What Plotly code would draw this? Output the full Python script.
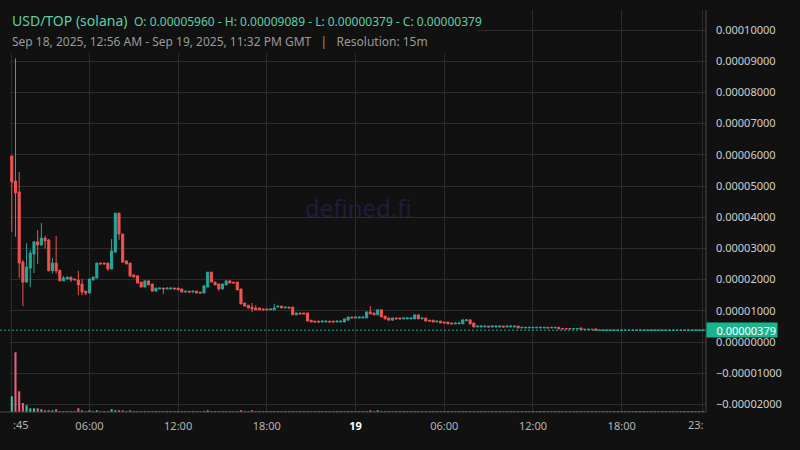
import plotly.graph_objects as go
import pandas as pd

# ---------------- data (prices in units of 1e-5 USD) ----------------
PRICE_UNIT = 1e-5
START = "2025-09-18 00:45"
N_CANDLES = 188

opens = [
    5.96, 5.16, 4.81, 2.56, 1.92, 2.37, 2.82, 3.21, 3.11, 3.33,
    3.27, 2.28, 2.53, 2.30, 1.96, 2.02, 2.08, 2.02, 1.99, 1.86,
    1.63, 1.57, 1.99, 2.05, 2.53, 2.53, 2.53, 2.34, 2.88, 4.13,
    3.46, 2.60, 2.53, 2.15, 2.12, 1.92, 1.76, 1.96, 1.86, 1.63,
    1.70, 1.73, 1.70, 1.70, 1.73, 1.73, 1.70, 1.60, 1.63, 1.60,
    1.63, 1.60, 1.57, 1.76, 2.24, 1.92, 1.86, 1.70, 1.83, 1.96,
    1.92, 1.92, 1.70, 1.25, 1.18, 1.12, 1.09, 1.09, 1.06, 1.06,
    1.03, 1.03, 1.12, 1.15, 1.09, 1.12, 1.12, 0.87, 0.93, 0.93,
    0.93, 0.70, 0.67, 0.67, 0.64, 0.64, 0.67, 0.67, 0.64, 0.64,
    0.64, 0.70, 0.80, 0.77, 0.77, 0.77, 0.77, 0.96, 0.93, 0.87,
    1.03, 0.83, 0.77, 0.70, 0.77, 0.77, 0.74, 0.74, 0.74, 0.74,
    0.87, 0.74, 0.77, 0.70, 0.70, 0.64, 0.67, 0.64, 0.64, 0.61,
    0.58, 0.58, 0.58, 0.68, 0.71, 0.61, 0.48, 0.48, 0.48, 0.51,
    0.48, 0.48, 0.48, 0.51, 0.48, 0.48, 0.48, 0.51, 0.45, 0.45,
    0.45, 0.45, 0.45, 0.45, 0.45, 0.47, 0.45, 0.45, 0.47, 0.43,
    0.43, 0.43, 0.42, 0.42, 0.45, 0.41, 0.40, 0.41, 0.42, 0.3788,
    0.3788, 0.3788, 0.3788, 0.3788, 0.3788, 0.3788, 0.3788, 0.3788, 0.3788, 0.3788,
    0.3788, 0.3788, 0.3788, 0.3788, 0.3788, 0.3788, 0.3788, 0.3788, 0.3788, 0.3788,
    0.3788, 0.3788, 0.3788, 0.3788, 0.3788, 0.3788, 0.3788, 0.3788,
]
highs = [
    5.96, 9.089, 5.45, 2.63, 3.17, 2.95, 3.21, 3.59, 3.81, 3.40,
    3.30, 2.69, 3.40, 2.30, 2.12, 2.08, 2.08, 2.02, 2.28, 2.02,
    1.63, 2.02, 2.08, 2.53, 2.53, 2.53, 2.53, 3.30, 4.13, 4.13,
    3.46, 2.60, 2.53, 2.15, 2.12, 1.92, 1.96, 1.96, 1.86, 1.73,
    1.73, 1.73, 1.73, 1.73, 1.73, 1.73, 1.70, 1.63, 1.63, 1.63,
    1.63, 1.60, 1.80, 2.24, 2.24, 1.92, 1.86, 1.86, 1.96, 1.96,
    1.92, 1.92, 1.70, 1.25, 1.18, 1.25, 1.18, 1.09, 1.06, 1.06,
    1.06, 1.22, 1.15, 1.15, 1.12, 1.12, 1.12, 0.93, 0.93, 0.93,
    0.93, 0.70, 0.67, 0.67, 0.67, 0.67, 0.67, 0.67, 0.67, 0.67,
    0.74, 0.80, 0.80, 0.80, 0.80, 0.80, 0.99, 1.15, 0.93, 1.06,
    1.03, 0.83, 0.77, 0.77, 0.77, 0.77, 0.77, 0.77, 0.77, 0.87,
    0.87, 0.77, 0.77, 0.70, 0.70, 0.67, 0.67, 0.64, 0.64, 0.61,
    0.61, 0.61, 0.71, 0.71, 0.71, 0.61, 0.51, 0.51, 0.51, 0.51,
    0.51, 0.51, 0.51, 0.51, 0.51, 0.51, 0.51, 0.51, 0.47, 0.47,
    0.47, 0.47, 0.47, 0.47, 0.47, 0.47, 0.47, 0.47, 0.47, 0.43,
    0.43, 0.43, 0.43, 0.43, 0.45, 0.41, 0.41, 0.41, 0.42, 0.379,
    0.379, 0.379, 0.379, 0.379, 0.379, 0.379, 0.379, 0.379, 0.379, 0.379,
    0.379, 0.379, 0.379, 0.379, 0.379, 0.379, 0.379, 0.379, 0.379, 0.379,
    0.379, 0.379, 0.379, 0.379, 0.379, 0.379, 0.379, 0.379,
]
lows = [
    3.53, 3.37, 2.05, 1.15, 1.90, 1.76, 2.21, 2.50, 3.08, 3.00,
    2.28, 2.20, 2.20, 1.96, 1.96, 2.00, 1.92, 1.99, 1.50, 1.50,
    1.50, 1.57, 1.96, 2.05, 2.50, 2.50, 2.28, 2.34, 2.88, 3.27,
    2.56, 2.50, 2.08, 2.08, 1.89, 1.76, 1.76, 1.83, 1.63, 1.63,
    1.70, 1.54, 1.70, 1.70, 1.70, 1.67, 1.60, 1.60, 1.60, 1.60,
    1.57, 1.57, 1.57, 1.76, 1.92, 1.83, 1.63, 1.70, 1.83, 1.89,
    1.89, 1.67, 1.22, 1.15, 1.09, 0.96, 1.03, 1.03, 1.03, 1.03,
    1.03, 1.03, 1.12, 1.09, 1.09, 1.09, 0.87, 0.87, 0.90, 0.90,
    0.67, 0.64, 0.64, 0.64, 0.64, 0.64, 0.64, 0.64, 0.64, 0.64,
    0.64, 0.70, 0.77, 0.77, 0.77, 0.77, 0.77, 0.90, 0.87, 0.87,
    0.80, 0.74, 0.70, 0.70, 0.74, 0.74, 0.74, 0.74, 0.74, 0.74,
    0.74, 0.74, 0.67, 0.67, 0.64, 0.64, 0.61, 0.61, 0.58, 0.58,
    0.58, 0.58, 0.58, 0.68, 0.58, 0.48, 0.48, 0.48, 0.48, 0.48,
    0.48, 0.48, 0.48, 0.48, 0.48, 0.48, 0.48, 0.45, 0.45, 0.45,
    0.45, 0.45, 0.45, 0.45, 0.45, 0.45, 0.45, 0.45, 0.42, 0.42,
    0.42, 0.42, 0.42, 0.42, 0.40, 0.40, 0.40, 0.40, 0.379, 0.3788,
    0.3788, 0.3788, 0.3788, 0.3788, 0.3788, 0.3788, 0.3788, 0.3788, 0.3788, 0.3788,
    0.3788, 0.3788, 0.3788, 0.3788, 0.3788, 0.3788, 0.3788, 0.3788, 0.3788, 0.3788,
    0.3788, 0.3788, 0.3788, 0.3788, 0.3788, 0.3788, 0.3788, 0.3788,
]
closes = [
    5.13, 4.78, 2.53, 1.92, 2.40, 2.85, 3.21, 3.11, 3.33, 3.24,
    2.28, 2.53, 2.28, 1.96, 2.05, 2.08, 1.99, 1.99, 1.83, 1.60,
    1.57, 2.02, 2.08, 2.53, 2.50, 2.50, 2.34, 2.92, 4.13, 3.46,
    2.56, 2.50, 2.12, 2.08, 1.89, 1.76, 1.96, 1.83, 1.63, 1.73,
    1.73, 1.70, 1.73, 1.73, 1.70, 1.67, 1.60, 1.63, 1.60, 1.63,
    1.57, 1.57, 1.80, 2.24, 1.92, 1.83, 1.70, 1.86, 1.96, 1.89,
    1.89, 1.67, 1.22, 1.15, 1.09, 1.06, 1.03, 1.03, 1.03, 1.03,
    1.06, 1.09, 1.15, 1.09, 1.12, 1.09, 0.87, 0.93, 0.90, 0.90,
    0.67, 0.64, 0.64, 0.64, 0.67, 0.67, 0.64, 0.64, 0.67, 0.67,
    0.74, 0.80, 0.77, 0.80, 0.80, 0.80, 0.96, 0.90, 0.87, 1.03,
    0.80, 0.74, 0.70, 0.77, 0.74, 0.74, 0.77, 0.77, 0.77, 0.87,
    0.74, 0.77, 0.67, 0.67, 0.64, 0.67, 0.61, 0.61, 0.58, 0.58,
    0.61, 0.61, 0.71, 0.71, 0.58, 0.48, 0.51, 0.51, 0.51, 0.48,
    0.51, 0.51, 0.51, 0.48, 0.51, 0.51, 0.51, 0.45, 0.47, 0.47,
    0.47, 0.47, 0.47, 0.47, 0.47, 0.45, 0.47, 0.47, 0.42, 0.42,
    0.42, 0.42, 0.43, 0.43, 0.40, 0.40, 0.41, 0.40, 0.379, 0.379,
    0.379, 0.379, 0.379, 0.379, 0.379, 0.379, 0.379, 0.379, 0.379, 0.379,
    0.379, 0.379, 0.379, 0.379, 0.379, 0.379, 0.379, 0.379, 0.379, 0.379,
    0.379, 0.379, 0.379, 0.379, 0.379, 0.379, 0.379, 0.379,
]
# relative volume (arbitrary units)
volumes = [
    15.7, 59.7, 20.7, 9.0, 6.7, 3.7, 3.7, 3.7, 2.7, 1.7,
    1.7, 1.7, 2.7, 0.8, 0.8, 0.8, 0.8, 0.8, 3.7, 1.7,
    0.8, 1.7, 0.8, 1.7, 0.8, 0.8, 0.8, 2.7, 1.7, 1.7,
    1.7, 0.8, 1.7, 0.8, 0.8, 0.8, 0.8, 0.8, 0.8, 0.8,
    0.8, 0.8, 0.8, 0.8, 0.8, 0.8, 0.8, 0.8, 0.8, 0.8,
    0.8, 0.8, 0.8, 1.7, 0.8, 0.8, 0.8, 0.8, 0.8, 0.8,
    0.8, 0.8, 1.7, 0.8, 0.8, 1.7, 0.8, 0.8, 0.8, 0.8,
    0.8, 0.8, 0.8, 0.8, 0.8, 0.8, 0.8, 0.8, 0.8, 0.8,
    0.8, 0.8, 0.8, 0.8, 0.8, 0.8, 0.8, 0.8, 0.8, 0.8,
    0.8, 0.8, 0.8, 0.8, 0.8, 0.8, 0.8, 1.7, 0.8, 1.7,
    0.8, 0.8, 0.8, 0.8, 0.8, 0.8, 0.8, 0.8, 0.8, 0.8,
    0.8, 0.8, 0.8, 0.8, 0.8, 0.8, 0.8, 0.8, 0.8, 0.8,
    0.8, 0.8, 0.8, 0.8, 0.8, 0.8, 0.8, 0.8, 0.8, 0.8,
    0.8, 0.8, 0.8, 0.8, 0.8, 0.8, 0.8, 0.8, 0.8, 0.8,
    0.8, 0.8, 0.8, 0.8, 0.8, 0.8, 0.8, 0.8, 0.8, 0.8,
    0.8, 0.8, 0.8, 0.8, 0.8, 0.8, 0.8, 0.8, 0.8, 0.8,
    0.8, 0.8, 0.8, 0.8, 0.8, 0.8, 0.8, 0.8, 0.8, 0.8,
    0.8, 0.8, 0.8, 0.8, 0.8, 0.8, 0.8, 0.8, 0.8, 0.8,
    0.8, 0.8, 0.8, 0.8, 0.8, 0.8, 0.8, 0.8,
]

last_price = 0.00000379
y_tick_values = [-0.00002, -0.00001, 0.0, 0.00001, 0.00002, 0.00003, 0.00004,
                 0.00005, 0.00006, 0.00007, 0.00008, 0.00009, 0.0001]
x_tick_times = ["2025-09-18 00:45", "2025-09-18 06:00", "2025-09-18 12:00",
                "2025-09-18 18:00", "2025-09-19 00:00", "2025-09-19 06:00",
                "2025-09-19 12:00", "2025-09-19 18:00", "2025-09-19 23:30"]
x_tick_labels = ["", "06:00", "12:00", "18:00",
                 "<span style='color:#ffffff'><b>19</b></span>",
                 "06:00", "12:00", "18:00", ""]

title_text = "USD/TOP (solana)"
ohlc_text = "O: 0.00005960 - H: 0.00009089 - L: 0.00000379 - C: 0.00000379"
sub_text = ("Sep 18, 2025, 12:56 AM - Sep 19, 2025, 11:32 PM GMT"
            "\u00a0\u00a0\u00a0|\u00a0\u00a0\u00a0Resolution: 15m")

# ---------------- styling ----------------
BG = "#111111"
GRID = "#2c2c2c"
BORDER = "#4a4a4a"
UP = "#26a69a"
DOWN = "#ef5350"
VOL_UP = "#3cc9a0"
VOL_DOWN = "#f0607a"
TEAL_TXT = "#5fcfa7"
FONT = "Noto Sans"

W, H = 800, 450
L_M, R_M, T_M, B_M = 10, 94, 10, 38
PW, PH = W - L_M - R_M, H - T_M - B_M


def pxx(px):
    return (px - L_M) / PW


def pxy(py):
    return 1 - (py - T_M) / PH


times = pd.date_range(START, periods=N_CANDLES, freq="15min")
o = [v * PRICE_UNIT for v in opens]
h = [v * PRICE_UNIT for v in highs]
lo = [v * PRICE_UNIT for v in lows]
c = [v * PRICE_UNIT for v in closes]

vol_colors = [VOL_UP if cc >= oo else VOL_DOWN for oo, cc in zip(opens, closes)]
vol_colors[0] = VOL_UP

fig = go.Figure()
fig.add_trace(go.Bar(
    x=times, y=volumes, yaxis="y2", marker=dict(color=vol_colors, line=dict(width=0)),
    hoverinfo="skip", showlegend=False,
))
fig.add_trace(go.Candlestick(
    x=times, open=o, high=h, low=lo, close=c,
    increasing=dict(line=dict(color=UP, width=1), fillcolor=UP),
    decreasing=dict(line=dict(color=DOWN, width=1), fillcolor=DOWN),
    whiskerwidth=0, showlegend=False, hoverinfo="skip",
))

fig.update_layout(
    width=W, height=H,
    margin=dict(l=L_M, r=R_M, t=T_M, b=B_M),
    paper_bgcolor=BG, plot_bgcolor=BG,
    font=dict(family=FONT, color="#c8c8c8", size=11),
    showlegend=False, hovermode=False,
    bargap=0.45, boxgap=0.25, boxgroupgap=0.25,
    xaxis=dict(
        type="date",
        range=["2025-09-18 00:37:42", "2025-09-19 23:42:18"],
        rangeslider=dict(visible=False),
        tickvals=x_tick_times, ticktext=x_tick_labels,
        showgrid=True, gridcolor=GRID, gridwidth=1,
        zeroline=False, showline=False, ticks="",
        tickfont=dict(family=FONT, size=11, color="#b4b4b4"),
        ticklabelstandoff=6,
    ),
    yaxis=dict(
        side="right",
        range=[-(412 - 342) / 31.2 * 1e-5, (342 - 10) / 31.2 * 1e-5],
        tickvals=y_tick_values, tickformat=".8f",
        showgrid=True, gridcolor=GRID, gridwidth=1,
        zeroline=False, showline=False, ticks="",
        tickfont=dict(family=FONT, size=11, color="#cfcfcf"),
        ticklabelstandoff=9,
    ),
    yaxis2=dict(overlaying="y", range=[0, PH], visible=False, fixedrange=True),
)

shapes = []
# legend background box (hides grid under header text)
shapes.append(dict(type="rect", xref="paper", yref="paper",
                   x0=pxx(0), x1=pxx(478), y0=pxy(53), y1=pxy(0),
                   fillcolor=BG, line=dict(width=0), layer="above"))
# current price dotted line
shapes.append(dict(type="line", xref="paper", yref="y",
                   x0=pxx(0), x1=1, y0=last_price, y1=last_price,
                   line=dict(color=UP, width=1, dash="2px,2px"), layer="above"))
# pane borders
shapes.append(dict(type="line", xref="paper", yref="paper",
                   x0=pxx(0), x1=1, y0=0, y1=0,
                   line=dict(color=BORDER, width=1), layer="above"))
shapes.append(dict(type="line", xref="paper", yref="paper",
                   x0=1, x1=1, y0=0, y1=1,
                   line=dict(color=BORDER, width=1), layer="above"))
fig.update_layout(shapes=shapes)

ann = []
ann.append(dict(text=title_text, xref="paper", yref="paper", x=pxx(10), y=pxy(20),
                xanchor="left", yanchor="middle", showarrow=False,
                font=dict(family=FONT, size=14, color=TEAL_TXT)))
ann.append(dict(text=ohlc_text, xref="paper", yref="paper", x=pxx(132), y=pxy(21),
                xanchor="left", yanchor="middle", showarrow=False,
                font=dict(family=FONT, size=12, color=TEAL_TXT)))
ann.append(dict(text=sub_text, xref="paper", yref="paper", x=pxx(10), y=pxy(41),
                xanchor="left", yanchor="middle", showarrow=False,
                font=dict(family=FONT, size=12, color="#9a9a9a")))
ann.append(dict(text="defined.fi", xref="paper", yref="paper", x=pxx(358), y=pxy(207),
                xanchor="center", yanchor="middle", showarrow=False,
                font=dict(family=FONT, size=24, color="#1e1e3c")))
# truncated edge time labels
ann.append(dict(text=":45", xref="paper", yref="paper", x=pxx(11), y=pxy(425),
                xanchor="left", yanchor="middle", showarrow=False,
                font=dict(family=FONT, size=11, color="#b4b4b4")))
ann.append(dict(text="23:", xref="paper", yref="paper", x=pxx(706), y=pxy(425),
                xanchor="right", yanchor="middle", showarrow=False,
                font=dict(family=FONT, size=11, color="#b4b4b4")))
# last price label
ann.append(dict(text="0.00000379", xref="paper", yref="y", x=1, y=last_price,
                xanchor="left", yanchor="middle", showarrow=False,
                width=68, height=12, align="right", borderpad=1,
                bgcolor="#1ab58e", font=dict(family=FONT, size=11, color="#ffffff")))
fig.update_layout(annotations=ann)

fig.write_html("out.html",
               config={"displayModeBar": False, "staticPlot": True},
               post_script="document.body.style.margin='0px';"
                           "document.body.style.overflow='hidden';")
